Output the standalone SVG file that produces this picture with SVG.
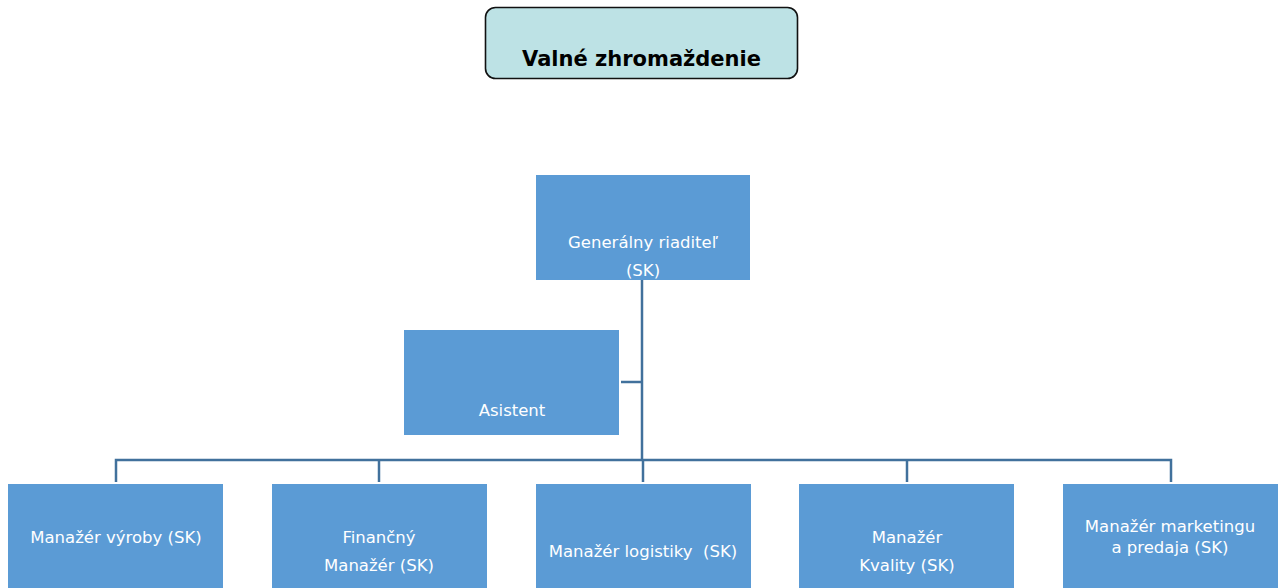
<svg xmlns="http://www.w3.org/2000/svg" width="1280" height="588" viewBox="0 0 1280 588">
<style>
.box{fill:#5B9BD5}
.t{font-family:"DejaVu Sans","Liberation Sans",sans-serif;font-size:16.5px;fill:#ffffff;text-anchor:middle}
.title{font-family:"DejaVu Sans","Liberation Sans",sans-serif;font-size:21px;font-weight:bold;fill:#000000;text-anchor:middle}
.c{fill:none;stroke:#41719C;stroke-width:2.5}
</style>
<rect width="1280" height="588" fill="#ffffff"/>
<g id="connectors">
<path class="c" d="M642 280 V460"/>
<path class="c" d="M621 382 H642"/>
<path class="c" d="M116 482 V460 H1171 V482"/>
<path class="c" d="M379 460 V482"/>
<path class="c" d="M643 460 V482"/>
<path class="c" d="M907 460 V482"/>
</g>
<g id="valne">
<rect x="485.5" y="7.5" width="312" height="71" rx="10" ry="10" fill="#BDE2E5" stroke="#111111" stroke-width="1.6"/>
<text class="title" x="641.5" y="66">Valné zhromaždenie</text>
</g>
<g id="generalny">
<rect class="box" x="536" y="175" width="214" height="105"/>
<text class="t" x="643" y="248">Generálny riaditeľ</text>
<text class="t" x="643" y="276">(SK)</text>
</g>
<g id="asistent">
<rect class="box" x="404" y="330" width="215" height="105"/>
<text class="t" x="512" y="416">Asistent</text>
</g>
<g id="vyroba">
<rect class="box" x="8" y="484" width="215" height="110"/>
<text class="t" x="116" y="543">Manažér výroby (SK)</text>
</g>
<g id="financny">
<rect class="box" x="272" y="484" width="215" height="110"/>
<text class="t" x="379" y="543">Finančný</text>
<text class="t" x="379" y="571">Manažér (SK)</text>
</g>
<g id="logistika">
<rect class="box" x="536" y="484" width="215" height="110"/>
<text class="t" x="643" y="557" xml:space="preserve">Manažér logistiky  (SK)</text>
</g>
<g id="kvalita">
<rect class="box" x="799" y="484" width="215" height="110"/>
<text class="t" x="907" y="543">Manažér</text>
<text class="t" x="907" y="571">Kvality (SK)</text>
</g>
<g id="marketing">
<rect class="box" x="1063" y="484" width="215" height="110"/>
<text class="t" x="1170" y="532">Manažér marketingu</text>
<text class="t" x="1170" y="553">a predaja (SK)</text>
</g>
</svg>
